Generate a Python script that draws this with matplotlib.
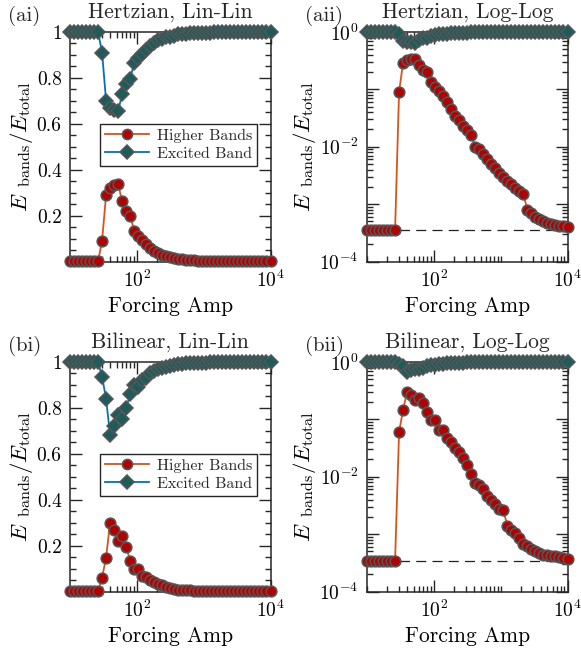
import numpy as np
import matplotlib
matplotlib.use('Agg')
import matplotlib.pyplot as plt
from matplotlib.ticker import FixedLocator, LogLocator, MultipleLocator, NullFormatter

plt.rcParams.update({
    'font.family': 'serif',
    'font.serif': ['cmr10'],
    'mathtext.fontset': 'cm',
    'axes.formatter.use_mathtext': True,
    'axes.unicode_minus': False,
    'font.size': 15,
    'text.color': '#262626',
    'axes.edgecolor': '#262626',
    'axes.linewidth': 1.1,
})

# forcing amplitudes (x)
forcing_amp = [10.0, 11.48, 13.18, 15.14, 17.38, 19.95, 22.91, 26.30, 30.20, 34.67,
               39.81, 45.71, 52.48, 60.26, 69.18, 79.43, 91.20, 104.7, 120.2, 138.0,
               158.5, 182.0, 208.9, 239.9, 275.4, 316.2, 363.1, 416.9, 478.6, 549.5,
               631.0, 724.4, 831.8, 955.0, 1096, 1259, 1445, 1660, 1905, 2188,
               2512, 2884, 3311, 3802, 4365, 5012, 5754, 6607, 7586, 8710, 10000]

# Hertzian
hertz_higher = [3.5e-4, 3.5e-4, 3.5e-4, 3.5e-4, 3.5e-4, 3.5e-4, 3.5e-4, 3.5e-4, 0.091, 0.29,
                0.32, 0.333, 0.337, 0.262, 0.218, 0.20, 0.135, 0.112, 0.095, 0.078,
                0.060, 0.046, 0.035, 0.029, 0.023, 0.0195, 0.0158, 0.0100, 0.0091, 0.0074,
                0.0060, 0.0050, 0.0042, 0.0035, 0.0030, 0.0025, 0.0022, 0.0019, 0.0017, 0.0015,
                0.00079, 0.00069, 0.00060, 0.00055, 0.00050, 0.00047, 0.00045, 0.00043, 0.00042, 0.00041,
                0.00040]
hertz_excited = [1.0, 1.0, 1.0, 1.0, 1.0, 1.0, 1.0, 1.0, 0.91, 0.70,
                 0.67, 0.66, 0.655, 0.73, 0.775, 0.795, 0.865, 0.885, 0.905, 0.92,
                 0.94, 0.953, 0.965, 0.971, 0.977, 0.98, 0.984, 0.99, 0.991, 0.993,
                 0.994, 0.995, 0.996, 0.9965, 0.997, 0.9975, 0.998, 0.998, 0.998, 0.9985,
                 0.999, 0.999, 0.999, 0.9995, 0.9995, 0.9995, 0.9995, 0.9996, 0.9996, 0.9996,
                 0.9996]
hertz_floor = 3.5e-4

# Bilinear
bilin_higher = [3.4e-4, 3.4e-4, 3.4e-4, 3.4e-4, 3.4e-4, 3.4e-4, 3.4e-4, 3.4e-4, 0.060, 0.148,
                0.30, 0.27, 0.22, 0.24, 0.195, 0.135, 0.098, 0.098, 0.066, 0.065,
                0.048, 0.040, 0.032, 0.0275, 0.0214, 0.0162, 0.0112, 0.0079, 0.0072, 0.0062,
                0.0047, 0.0040, 0.0034, 0.0027, 0.0026, 0.0014, 0.0012, 0.00105, 0.00085, 0.00068,
                0.00062, 0.00056, 0.00050, 0.00047, 0.00044, 0.00043, 0.00042, 0.00041, 0.00040, 0.00039,
                0.00037]
bilin_excited = [1.0, 1.0, 1.0, 1.0, 1.0, 1.0, 1.0, 1.0, 0.935, 0.84,
                 0.68, 0.72, 0.77, 0.75, 0.80, 0.86, 0.90, 0.89, 0.92, 0.93,
                 0.95, 0.96, 0.968, 0.972, 0.978, 0.984, 0.989, 0.992, 0.993, 0.994,
                 0.995, 0.996, 0.9965, 0.997, 0.9975, 0.998, 0.9985, 0.999, 0.999, 0.9993,
                 0.9994, 0.9994, 0.9995, 0.9995, 0.9996, 0.9996, 0.9996, 0.9996, 0.9996, 0.9996,
                 0.9996]
bilin_floor = 3.4e-4

panels = [
    ('(ai)', 'Hertzian, Lin-Lin', hertz_higher, hertz_excited, None, False),
    ('(aii)', 'Hertzian, Log-Log', hertz_higher, hertz_excited, hertz_floor, True),
    ('(bi)', 'Bilinear, Lin-Lin', bilin_higher, bilin_excited, None, False),
    ('(bii)', 'Bilinear, Log-Log', bilin_higher, bilin_excited, bilin_floor, True),
]

W, H = 581, 654
boxes = [(70, 32), (367, 32), (70, 362), (367, 362)]  # left, top in px

fig = plt.figure(figsize=(W / 100, H / 100), dpi=100)

for (lab, title, higher, excited, floor, loglog), (l, t) in zip(panels, boxes):
    ax = fig.add_axes([l / W, 1 - (t + 229.5) / H, 200.5 / W, 229.5 / H])
    ax.set_xscale('log')
    if loglog:
        ax.set_yscale('log')
        ax.axhline(floor, color='#202020', lw=0.9, ls=(0, (8, 5)), zorder=1)

    ax.plot(forcing_amp, higher, '-o', color='#D95319', lw=1.3, ms=7.6,
            mfc='#B30000', mec='#555555', mew=1.2, clip_on=False, zorder=3,
            label='Higher Bands')
    ax.plot(forcing_amp, excited, '-D', color='#0072BD', lw=1.3, ms=7.0,
            mfc='#1E5C5C', mec='#555555', mew=1.1, clip_on=False, zorder=4,
            label='Excited Band')

    ax.set_xlim(10, 1e4)
    ax.xaxis.set_major_locator(FixedLocator([1e2, 1e4]))
    ax.xaxis.set_minor_locator(LogLocator(base=10, subs=np.arange(1, 10), numticks=20))
    ax.xaxis.set_minor_formatter(NullFormatter())
    ax.set_xticklabels([r'$10^{2}$', r'$10^{4}$'])

    if loglog:
        ax.set_ylim(1e-4, 1)
        ax.set_yticks([1e-4, 1e-3, 1e-2, 1e-1, 1])
        ax.set_yticklabels([r'$10^{-4}$', '', r'$10^{-2}$', '', r'$10^{0}$'])
        ax.yaxis.set_minor_locator(LogLocator(base=10, subs=np.arange(2, 10), numticks=20))
        ax.yaxis.set_minor_formatter(NullFormatter())
    else:
        ax.set_ylim(0, 1)
        ax.set_yticks([0.2, 0.4, 0.6, 0.8, 1.0])
        ax.set_yticklabels(['0.2', '0.4', '0.6', '0.8', '1'])
        ax.yaxis.set_minor_locator(MultipleLocator(0.05))
        leg = ax.legend(loc='upper right', bbox_to_anchor=(0.935, 0.60), fontsize=11.5,
                        fancybox=False, framealpha=1, edgecolor='#262626',
                        handlelength=2.8, borderpad=0.3, labelspacing=0.25,
                        handletextpad=0.5, borderaxespad=0, markerscale=0.95)
        leg.get_frame().set_linewidth(1.0)

    ax.tick_params(which='both', direction='in', top=True, right=True,
                   color='#262626', width=1.0, labelsize=14)
    ax.tick_params(which='major', length=8.5, pad=6)
    ax.tick_params(which='minor', length=4.5)

    ax.set_xlabel('Forcing Amp', fontsize=15.5, labelpad=4)
    ax.set_ylabel(r'$E_{\;\ \mathrm{bands}}/E_{\mathrm{total}}$', fontsize=16.5, labelpad=1)
    ax.set_title(title, fontsize=15.5, pad=10)
    fig.text((l - 62) / W, 1 - (t - 16) / H, lab, fontsize=15, va='center', ha='left')

fig.savefig('out.png', dpi=100)
